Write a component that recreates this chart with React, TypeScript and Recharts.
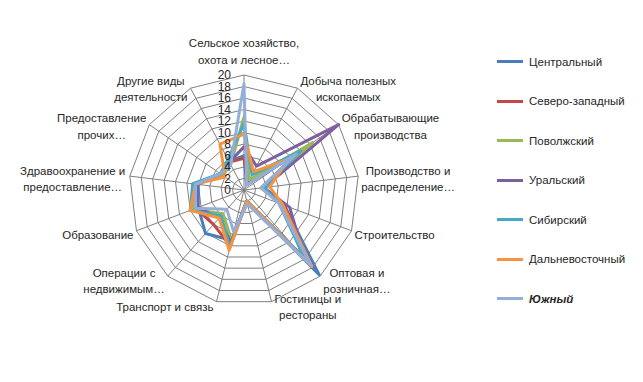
import React from "react";
import { RadarChart, Radar, PolarGrid, PolarAngleAxis, PolarRadiusAxis, Legend } from "recharts";

const categories = [
  "Сельское хозяйство,\nохота и лесное…",
  "Добыча полезных\nископаемых",
  "Обрабатывающие\nпроизводства",
  "Производство и\nраспределение…",
  "Строительство",
  "Оптовая и\nрозничная…",
  "Гостиницы и\nрестораны",
  "Транспорт и связь",
  "Операции с\nнедвижимым…",
  "Образование",
  "Здравоохранение  и\nпредоставление…",
  "Предоставление\nпрочих…",
  "Другие виды\nдеятельности",
];

const central = [6, 1, 12, 3, 7.5, 19.7, 2, 9, 10.1, 8.5, 8, 5, 5.5];
const northWest = [5.5, 1.5, 13, 3.2, 7.5, 17, 2, 10, 8, 9, 8.5, 5, 5.5];
const volga = [12.7, 2, 14.5, 3, 7, 15.5, 2, 9, 5.5, 9.5, 8.5, 4.5, 5];
const ural = [7.5, 4.7, 20, 3.5, 8.5, 16, 2, 9.5, 6.5, 8.6, 8.5, 5, 5.5];
const siberian = [11.6, 3, 12, 3.5, 6.5, 16, 2, 10.3, 6, 10, 9, 5, 6];
const farEast = [9.7, 3.6, 9.5, 4.5, 7.2, 17.8, 2, 10.8, 6.5, 10, 8.5, 4, 9];
const southern = [18.5, 1, 11, 3, 6.5, 17.5, 2.5, 7.5, 4.5, 9, 8.5, 5, 5];

const radiusTicks = [0, 2, 4, 6, 8, 10, 12, 14, 16, 18, 20];

const seriesNames = ["Центральный", "Северо-западный", "Поволжский", "Уральский", "Сибирский", "Дальневосточный", "Южный"];
const seriesKeys = ["c", "nw", "v", "u", "s", "fe", "south"];
const seriesValues = [central, northWest, volga, ural, siberian, farEast, southern];
const seriesColors = ["#4A7EBB", "#BE4B48", "#98B954", "#7D60A0", "#46AAC5", "#F69240", "#95AED9"];

const data = categories.map((cat, i) => {
  const row: Record<string, any> = { cat };
  seriesKeys.forEach((k, j) => (row[k] = seriesValues[j][i]));
  return row;
});

const CX = 244;
const CY = 190;
const R = 115;
const FONT = "'Liberation Sans', Arial, sans-serif";
const FS = 11.5;
const LH = 16.5;

let ctx: CanvasRenderingContext2D | null = null;
function measure(t: string) {
  if (!ctx) {
    const c = document.createElement("canvas");
    ctx = c.getContext("2d");
  }
  if (!ctx) return t.length * 6;
  ctx.font = `${FS}px ${FONT}`;
  return ctx.measureText(t).width;
}

const AngleTick = (props: any) => {
  const { payload } = props;
  const angle = payload.coordinate;
  const rad = (-angle * Math.PI) / 180;
  const vx = CX + Math.cos(rad) * R;
  const vy = CY + Math.sin(rad) * R;
  const lines: string[] = String(payload.value).split("\n");
  const widths = lines.map(measure);
  const w = Math.max(...widths);
  const h = lines.length * LH;
  const theta = ((90 - angle) * Math.PI) / 180;
  const s = Math.sin(theta);
  const c = Math.cos(theta);
  let centerX: number;
  let centerY: number;
  if (Math.abs(s) < 0.05) {
    centerX = vx;
    centerY = c > 0 ? vy - 7 - h / 2 : vy + 7 + h / 2;
  } else if (s > 0) {
    centerX = vx + 3 + w / 2;
    centerY = vy + 3 - 2.5 * c;
  } else {
    centerX = vx - 3 - w / 2;
    centerY = vy + 3 - 2.5 * c;
  }
  const top = centerY - h / 2;
  return (
    <g>
      {lines.map((ln, i) => (
        <text
          key={i}
          x={centerX}
          y={top + LH * i + LH / 2}
          textAnchor="middle"
          dominantBaseline="central"
          fontSize={FS}
          fontFamily={FONT}
          fill="#262626"
        >
          {ln}
        </text>
      ))}
    </g>
  );
};

const RadiusTick = (props: any) => {
  const { x, y, payload } = props;
  return (
    <text x={x - 13} y={y} textAnchor="end" dominantBaseline="central" fontSize={12} fontFamily={FONT} fill="#262626">
      {payload.value}
    </text>
  );
};

const LegendContent = () => (
  <div style={{ fontFamily: FONT, fontSize: FS, color: "#262626" }}>
    {seriesNames.map((n, i) => (
      <div key={n} style={{ height: 39.5, display: "flex", alignItems: "center" }}>
        <div style={{ width: 26, height: 3, background: seriesColors[i], marginRight: 6 }} />
        <span style={i === 6 ? { fontWeight: "bold", fontStyle: "italic" } : undefined}>{n}</span>
      </div>
    ))}
  </div>
);

export default function App() {
  return (
    <div style={{ position: "absolute", left: 0, top: 0, width: 643, height: 382, background: "#fff" }}>
      <RadarChart width={643} height={382} data={data} cx={CX} cy={CY} outerRadius={R}>
        <PolarGrid gridType="polygon" stroke="#7f7f7f" strokeWidth={1} />
        <PolarAngleAxis dataKey="cat" tick={<AngleTick />} tickLine={false} axisLine={false} />
        <PolarRadiusAxis
          angle={90}
          domain={[0, 20]}
          ticks={radiusTicks}
          tickCount={11}
          tick={<RadiusTick />}
          axisLine={false}
          tickLine={false}
        />
        {seriesKeys.map((k, i) => (
          <Radar
            key={k}
            name={seriesNames[i]}
            dataKey={k}
            stroke={seriesColors[i]}
            strokeWidth={3}
            strokeLinejoin="round"
            fill="none"
            fillOpacity={0}
            dot={false}
            isAnimationActive={false}
          />
        ))}
        <Legend
          layout="vertical"
          align="right"
          verticalAlign="top"
          content={<LegendContent />}
          wrapperStyle={{ position: "absolute", left: 497, top: 42, width: 146 }}
        />
      </RadarChart>
    </div>
  );
}
